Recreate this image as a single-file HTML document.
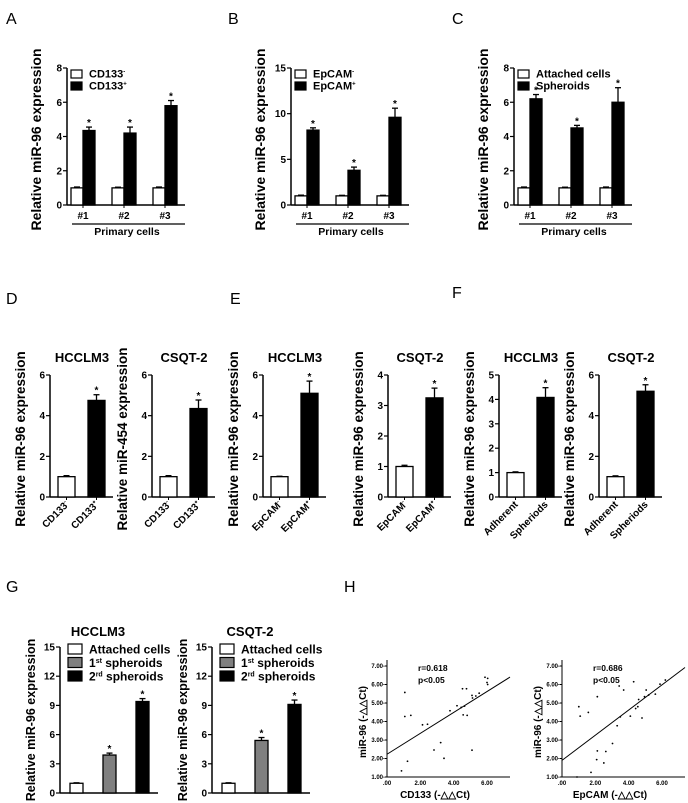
<!DOCTYPE html>
<html><head><meta charset="utf-8">
<style>
body{margin:0;background:#fff}
svg{display:block;font-family:"Liberation Sans",Arial,sans-serif}
.tk{font-size:10px;font-weight:bold}
.lt{font-size:16px}
</style></head>
<body>
<svg id="fig" width="688" height="803" viewBox="0 0 688 803" xmlns="http://www.w3.org/2000/svg">
<text class="lt" x="6" y="24">A</text>
<text class="lt" x="228" y="24">B</text>
<text class="lt" x="452" y="24">C</text>
<text class="lt" x="6" y="304">D</text>
<text class="lt" x="230" y="304">E</text>
<text class="lt" x="452" y="298">F</text>
<text class="lt" x="6" y="592">G</text>
<text class="lt" x="344" y="592">H</text>
</svg>
<script>
// ---- data ----
const primCats=['#1','#2','#3'];
const A_neg=[1,1,1], A_negErr=[0.05,0.04,0.05], A_pos=[4.35,4.2,5.8], A_posErr=[0.2,0.35,0.3];
const B_neg=[1,1,1], B_negErr=[0.08,0.06,0.06], B_pos=[8.2,3.8,9.6], B_posErr=[0.25,0.35,1.0];
const C_neg=[1,1,1], C_negErr=[0.05,0.04,0.05], C_pos=[6.2,4.5,6.0], C_posErr=[0.25,0.15,0.85];
const D1_vals=[1,4.75], D1_err=[0.05,0.28];
const D2_vals=[1,4.35], D2_err=[0.05,0.42];
const E1_vals=[1,5.1], E1_err=[0.02,0.6];
const E2_vals=[1,3.25], E2_err=[0.04,0.32];
const F1_vals=[1,4.08], F1_err=[0.03,0.4];
const F2_vals=[1,5.2], F2_err=[0.04,0.32];
const G1_vals=[1,3.9,9.4], G1_err=[0.05,0.2,0.3];
const G2_vals=[1,5.4,9.1], G2_err=[0.05,0.3,0.45];
const H1_x=[1.07,1.07,1.43,1.23,0.87,2.13,2.43,3.22,2.82,3.42,3.78,4.2,4.45,4.65,4.53,4.77,4.57,4.81,5.1,5.13,5.33,5.53,5.1,5.88,6.04,6.0,6.04];
const H1_y=[5.57,4.27,4.33,1.85,1.33,3.82,3.85,2.86,2.46,2.01,4.58,4.85,4.76,4.83,5.77,5.77,4.36,4.33,5.41,5.27,5.38,5.53,2.45,6.39,6.33,6.11,6.0];
const H1_fit=[2.23,0.565];
const H2_x=[1.01,1.09,1.58,2.12,2.12,2.08,2.51,2.63,1.74,3.03,3.31,3.43,3.7,3.5,4.3,4.1,4.42,4.6,4.55,4.8,4.95,5.05,5.2,5.6,5.88,6.2,0.9];
const H2_y=[4.8,4.29,4.49,5.34,2.41,1.94,1.76,2.38,1.25,2.81,3.77,5.92,5.7,4.25,6.15,4.29,4.7,5.19,4.8,4.19,5.34,5.7,5.43,5.48,6.02,6.24,1.0];
const H2_fit=[1.9,0.68];

const NS='http://www.w3.org/2000/svg', svg=document.getElementById('fig');
function mk(tag,at,txt,parent){const e=document.createElementNS(NS,tag);for(const k in at)e.setAttribute(k,at[k]);if(txt!=null)e.textContent=txt;(parent||svg).appendChild(e);return e;}
function grp(name){const g=mk('g',{});


return g;}

function yAxis(g,ax,y0,ytop,ymax,ticks,label,lx,fs,dy){
  const ys=v=>y0-v/ymax*(y0-ytop);
  const l=mk('line',{x1:ax,y1:y0,x2:ax,y2:ytop,stroke:'#000','stroke-width':1.5},null,g);
  
  
  ticks.forEach(t=>{mk('line',{x1:ax-4,x2:ax,y1:ys(t),y2:ys(t),stroke:'#000','stroke-width':1.2},null,g);
    const tl=mk('text',{x:ax-5,y:ys(t)+3.5,'text-anchor':'end',class:'tk'},String(t),g);
    
    });
  const cy=(y0+ytop)/2+dy;
  const yl=mk('text',{x:lx,y:cy,'text-anchor':'middle','font-size':fs,'font-weight':'bold',transform:`rotate(-90 ${lx} ${cy})`},label,g);
  
  
  return ys;
}
function bar(g,x,w,v,e,fill,ys,star,name){
  const y0=ys(0),yt=ys(v),ye=ys(v+e);
  const r=mk('rect',{x:x,y:yt,width:w,height:y0-yt,fill:fill,stroke:'#000','stroke-width':1.3},null,g);
  
  
  const c=x+w/2;
  mk('line',{x1:c,x2:c,y1:yt,y2:ye,stroke:'#000','stroke-width':1.3},null,g);
  mk('line',{x1:c-3,x2:c+3,y1:ye,y2:ye,stroke:'#000','stroke-width':1.3},null,g);
  if(star){const s=mk('text',{x:c,y:ye-1,'text-anchor':'middle',class:'tk'},'*',g);
    
    }
}
function legend(g,x,y,items,fs,bw,bh,gap){
  items.forEach((it,i)=>{const yy=y+i*gap;
    const r=mk('rect',{x:x,y:yy,width:bw,height:bh,fill:it[0],stroke:'#000','stroke-width':1.2},null,g);
    
    
    const t=mk('text',{x:x+bw+7,y:yy+bh-0.5,'font-size':fs,'font-weight':'bold'},null,g);
    
    
    t.innerHTML=it[1];});
}
function primary(name,ax,ymax,ticks,neg,negE,pos,posE,leg){
  const g=grp(name), y0=205, ytop=68;
  const ys=yAxis(g,ax,y0,ytop,ymax,ticks,'Relative miR-96 expression',ax-26,14,3);
  mk('line',{x1:ax,x2:ax+118,y1:y0,y2:y0,stroke:'#000','stroke-width':1.5},null,g);
  primCats.forEach((c,i)=>{const gx=ax+4+i*41;
    bar(g,gx,12,neg[i],negE[i],'#fff',ys,false,'bar-neg-'+(i+1));
    bar(g,gx+12,12,pos[i],posE[i],'#000',ys,true,'bar-pos-'+(i+1));
    mk('line',{x1:gx+12,x2:gx+12,y1:y0,y2:y0+3,stroke:'#000'},null,g);
    const t=mk('text',{x:gx+12,y:y0+14,'text-anchor':'middle',class:'tk'},c,g);
    
    });
  mk('line',{x1:ax+5,x2:ax+118,y1:224,y2:224,stroke:'#000','stroke-width':1.2},null,g);
  const p=mk('text',{x:ax+60,y:235,'text-anchor':'middle','font-size':10.5,'font-weight':'bold'},'Primary cells',g);
  
  
  legend(g,ax+4,70,leg,11,11,8,12);
}
primary('chart-a',67,8,[0,2,4,6,8],A_neg,A_negErr,A_pos,A_posErr,[['#fff','CD133<tspan dy="-4" font-size="6">-</tspan>'],['#000','CD133<tspan dy="-4" font-size="6">+</tspan>']]);
primary('chart-b',291,15,[0,5,10,15],B_neg,B_negErr,B_pos,B_posErr,[['#fff','EpCAM<tspan dy="-4" font-size="6">-</tspan>'],['#000','EpCAM<tspan dy="-4" font-size="6">+</tspan>']]);
primary('chart-c',514,8,[0,2,4,6,8],C_neg,C_negErr,C_pos,C_posErr,[['#fff','Attached cells'],['#000','Spheroids']]);

function pair(name,title,ax,ymax,ticks,vals,err,cats,ylab){
  const g=grp(name), y0=497, ytop=375;
  const ys=yAxis(g,ax,y0,ytop,ymax,ticks,ylab,ax-25,13.5,3);
  mk('line',{x1:ax,x2:ax+63,y1:y0,y2:y0,stroke:'#000','stroke-width':1.5},null,g);
  const tt=mk('text',{x:ax+32,y:362,'text-anchor':'middle','font-size':13,'font-weight':'bold'},title,g);
  
  
  vals.forEach((v,i)=>{const x=ax+8+i*30;
    bar(g,x,17,v,err[i],i?'#000':'#fff',ys,i>0,'bar-'+(i+1));
    const cx=x+8.5;
    mk('line',{x1:cx,x2:cx,y1:y0,y2:y0+3,stroke:'#000'},null,g);
    const t=mk('text',{x:cx+3,y:y0+8,'text-anchor':'end',class:'tk',transform:`rotate(-45 ${cx+3} ${y0+8})`},null,g);
    
    
    t.innerHTML=cats[i];});
}
const cdC=['CD133<tspan dy="-4" font-size="6">-</tspan>','CD133<tspan dy="-4" font-size="6">+</tspan>'];
const epC=['EpCAM<tspan dy="-4" font-size="6">-</tspan>','EpCAM<tspan dy="-4" font-size="6">+</tspan>'];
const adC=['Adherent','Spheriods'];
pair('chart-d-hcclm3','HCCLM3',50,6,[0,2,4,6],D1_vals,D1_err,cdC,'Relative miR-96 expression');
pair('chart-d-csqt2','CSQT-2',152,6,[0,2,4,6],D2_vals,D2_err,cdC,'Relative miR-454 expression');
pair('chart-e-hcclm3','HCCLM3',263,6,[0,2,4,6],E1_vals,E1_err,epC,'Relative miR-96 expression');
pair('chart-e-csqt2','CSQT-2',388,4,[0,1,2,3,4],E2_vals,E2_err,epC,'Relative miR-96 expression');
pair('chart-f-hcclm3','HCCLM3',499,5,[0,1,2,3,4,5],F1_vals,F1_err,adC,'Relative miR-96 expression');
pair('chart-f-csqt2','CSQT-2',599,6,[0,2,4,6],F2_vals,F2_err,adC,'Relative miR-96 expression');

function triple(name,title,ax,vals,err){
  const g=grp(name), y0=793, ytop=647;
  const ys=yAxis(g,ax,y0,ytop,15,[0,3,6,9,12,15],'Relative miR-96 expression',ax-25,12.5,0);
  mk('line',{x1:ax,x2:ax+98,y1:y0,y2:y0,stroke:'#000','stroke-width':1.5},null,g);
  const tt=mk('text',{x:ax+38,y:636,'text-anchor':'middle','font-size':13,'font-weight':'bold'},title,g);
  
  
  const fills=['#fff','#808080','#000'];
  vals.forEach((v,i)=>bar(g,ax+10+i*33,13,v,err[i],fills[i],ys,i>0,'bar-'+(i+1)));
  legend(g,ax+8,644,[['#fff','Attached cells'],['#808080','1<tspan dy="-4" font-size="7">st</tspan><tspan dy="4"> spheroids</tspan>'],['#000','2<tspan dy="-4" font-size="7">rd</tspan><tspan dy="4"> spheroids</tspan>']],12,14,10,13.5);
}
triple('chart-g-hcclm3','HCCLM3',60,G1_vals,G1_err);
triple('chart-g-csqt2','CSQT-2',212,G2_vals,G2_err);

function scatter(name,ax,xs,ysv,fit,xlab,r){
  const g=grp(name), y0=777, ytop=666, xr=ax+123;
  const X=v=>ax+v*(100/6), Y=v=>y0-(v-1)/6*(y0-ytop);
  mk('line',{x1:ax,x2:ax,y1:y0,y2:660,stroke:'#000','stroke-width':1},null,g);
  mk('line',{x1:ax,x2:xr,y1:y0,y2:y0,stroke:'#000','stroke-width':1},null,g);
  [1,2,3,4,5,6,7].forEach(t=>{mk('line',{x1:ax-2,x2:ax,y1:Y(t),y2:Y(t),stroke:'#000'},null,g);
    mk('text',{x:ax-2,y:Y(t)+2,'text-anchor':'end','font-size':6,'font-weight':'bold'},t.toFixed(2)+'-',g);});
  [0,2,4,6].forEach(t=>{mk('text',{x:X(t),y:y0+8,'text-anchor':'middle','font-size':6,'font-weight':'bold'},t?t.toFixed(2):'.00',g);});
  xs.forEach((x,i)=>{const c=mk('circle',{cx:X(x),cy:Y(ysv[i]),r:0.9,fill:'#000'},null,g);
    
    });
  const xe=(xr-ax)/(100/6);
  const ln=mk('line',{x1:X(0),y1:Y(fit[0]),x2:X(xe),y2:Y(fit[0]+fit[1]*xe),stroke:'#000','stroke-width':1},null,g);
  
  
  mk('text',{x:ax+31,y:671,'font-size':8.5,'font-weight':'bold'},'r='+r,g);
  mk('text',{x:ax+31,y:683,'font-size':8.5,'font-weight':'bold'},'p<0.05',g);
  const xl=mk('text',{x:ax+48,y:798,'text-anchor':'middle','font-size':10,'font-weight':'bold'},xlab+' (-△△Ct)',g);
  
  
  const yl=mk('text',{x:ax-21,y:722,'text-anchor':'middle','font-size':10,'font-weight':'bold',transform:`rotate(-90 ${ax-21} 722)`},'miR-96 (-△△Ct)',g);
  
  
}
scatter('chart-h-cd133',387,H1_x,H1_y,H1_fit,'CD133','0.618');
scatter('chart-h-epcam',562,H2_x,H2_y,H2_fit,'EpCAM','0.686');
</script>
</body></html>
